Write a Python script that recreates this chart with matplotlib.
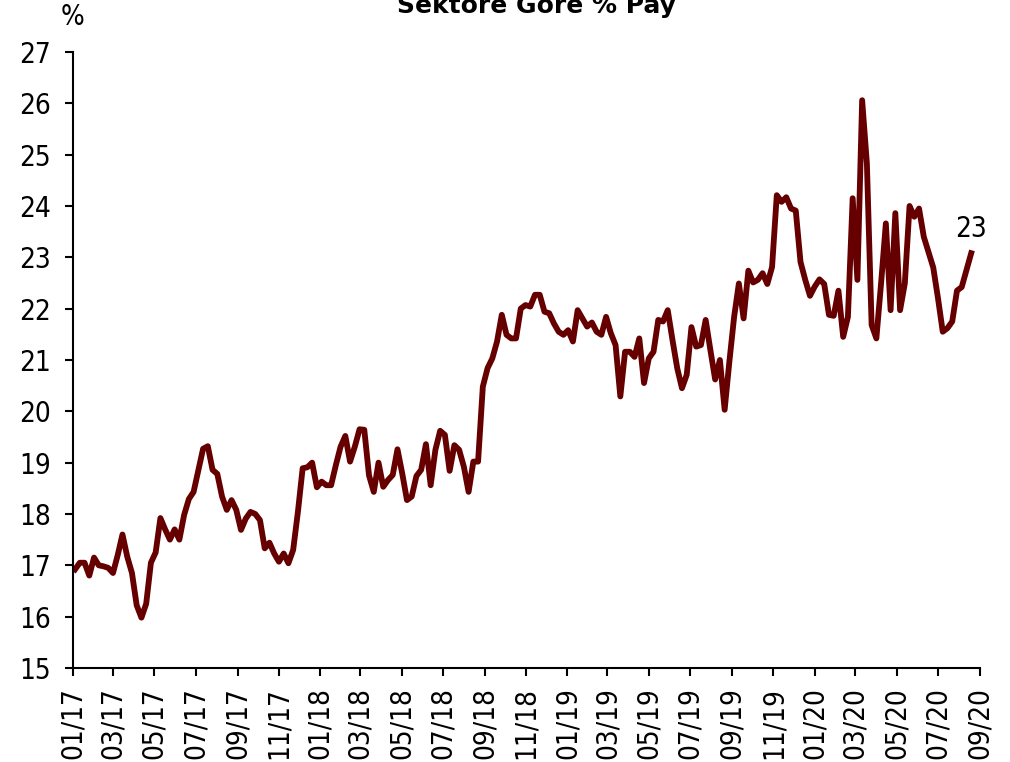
import matplotlib
matplotlib.use("Agg")
import matplotlib.pyplot as plt
import matplotlib.dates as mdates
from matplotlib import font_manager
import pandas as pd

# weekly share values, Jan 2017 - Aug 2020
share = [
    16.92, 17.05, 17.05, 16.80, 17.15, 17.00, 16.98, 16.95, 16.85, 17.20,
    17.60, 17.17, 16.85, 16.22, 15.98, 16.25, 17.05, 17.25, 17.92, 17.70,
    17.50, 17.70, 17.50, 17.98, 18.29, 18.43, 18.85, 19.27, 19.32, 18.86,
    18.78, 18.34, 18.08, 18.27, 18.08, 17.69, 17.91, 18.04, 18.00, 17.88,
    17.33, 17.44, 17.23, 17.07, 17.23, 17.04, 17.30, 18.04, 18.89, 18.91,
    19.00, 18.52, 18.63, 18.56, 18.56, 18.95, 19.31, 19.52, 19.02, 19.31,
    19.65, 19.64, 18.75, 18.43, 19.00, 18.53, 18.66, 18.76, 19.26, 18.79,
    18.27, 18.34, 18.74, 18.86, 19.36, 18.56, 19.25, 19.62, 19.54, 18.84,
    19.34, 19.25, 18.92, 18.43, 19.02, 19.02, 20.48, 20.84, 21.03, 21.36,
    21.88, 21.49, 21.42, 21.42, 22.00, 22.07, 22.04, 22.27, 22.27, 21.94,
    21.91, 21.71, 21.55, 21.49, 21.58, 21.36, 21.97, 21.81, 21.65, 21.73,
    21.55, 21.49, 21.84, 21.52, 21.29, 20.29, 21.16, 21.16, 21.06, 21.42,
    20.55, 21.03, 21.16, 21.78, 21.75, 21.97, 21.39, 20.84, 20.45, 20.71,
    21.64, 21.26, 21.29, 21.78, 21.19, 20.62, 21.00, 20.03, 20.97, 21.84,
    22.49, 21.81, 22.74, 22.51, 22.56, 22.69, 22.48, 22.81, 24.21, 24.08,
    24.17, 23.95, 23.91, 22.91, 22.56, 22.25, 22.43, 22.57, 22.48, 21.88,
    21.86, 22.35, 21.45, 21.84, 24.15, 22.56, 26.06, 24.83, 21.68, 21.42,
    22.50, 23.66, 21.97, 23.86, 21.97, 22.49, 24.00, 23.79, 23.95, 23.40,
    23.10, 22.80, 22.20, 21.55, 21.62, 21.75, 22.35, 22.42, 22.75, 23.08,
]
dates = pd.date_range("2017-01-04", periods=len(share), freq="7D")

title = "Sektöre Göre % Pay"
unit_label = "%"
last_label = "23"
y_ticks = list(range(15, 28))

# narrow font if we have one, else shrink the normal one
condensed = any(f.name == "DejaVu Sans" and f.stretch == "condensed"
                for f in font_manager.fontManager.ttflist)
plt.rcParams['font.family'] = ['DejaVu Sans']
if condensed:
    plt.rcParams['font.stretch'] = 'condensed'
    fs = 20
else:
    fs = 17

fig = plt.figure(figsize=(10.1, 7.62), dpi=100)
ax = fig.add_axes([0.0723, 0.1234, 0.8980, 0.8084])

ax.plot(dates, share, color="#660000", lw=4.2, solid_joinstyle="round")

ax.set_ylim(15, 27)
ax.set_yticks(y_ticks)
ax.set_xlim(pd.Timestamp("2017-01-01"), pd.Timestamp("2020-09-01"))
ax.xaxis.set_major_locator(mdates.MonthLocator(bymonth=[1, 3, 5, 7, 9, 11]))
ax.xaxis.set_major_formatter(mdates.DateFormatter("%m/%y"))

for s in ["top", "right"]:
    ax.spines[s].set_visible(False)
for s in ["left", "bottom"]:
    ax.spines[s].set_linewidth(1.5)
    ax.spines[s].set_color("black")

ax.tick_params(axis="y", direction="out", length=6, width=1.5, labelsize=fs, pad=10)
ax.tick_params(axis="x", direction="out", length=6, width=1.5, labelsize=fs, pad=8,
               labelrotation=90)

ax.annotate(last_label, xy=(dates[-1], share[-1]), xytext=(0, 7),
            textcoords="offset points", ha="center", va="bottom", fontsize=fs)

fig.text(0.531, 1 - 13 / 762, title, ha="center", va="baseline",
         fontsize=18, fontweight="bold", stretch="normal")
fig.text(0.0713, 1 - 17 / 762, unit_label, ha="center", va="center", fontsize=fs)

fig.savefig("out.png", dpi=100)
